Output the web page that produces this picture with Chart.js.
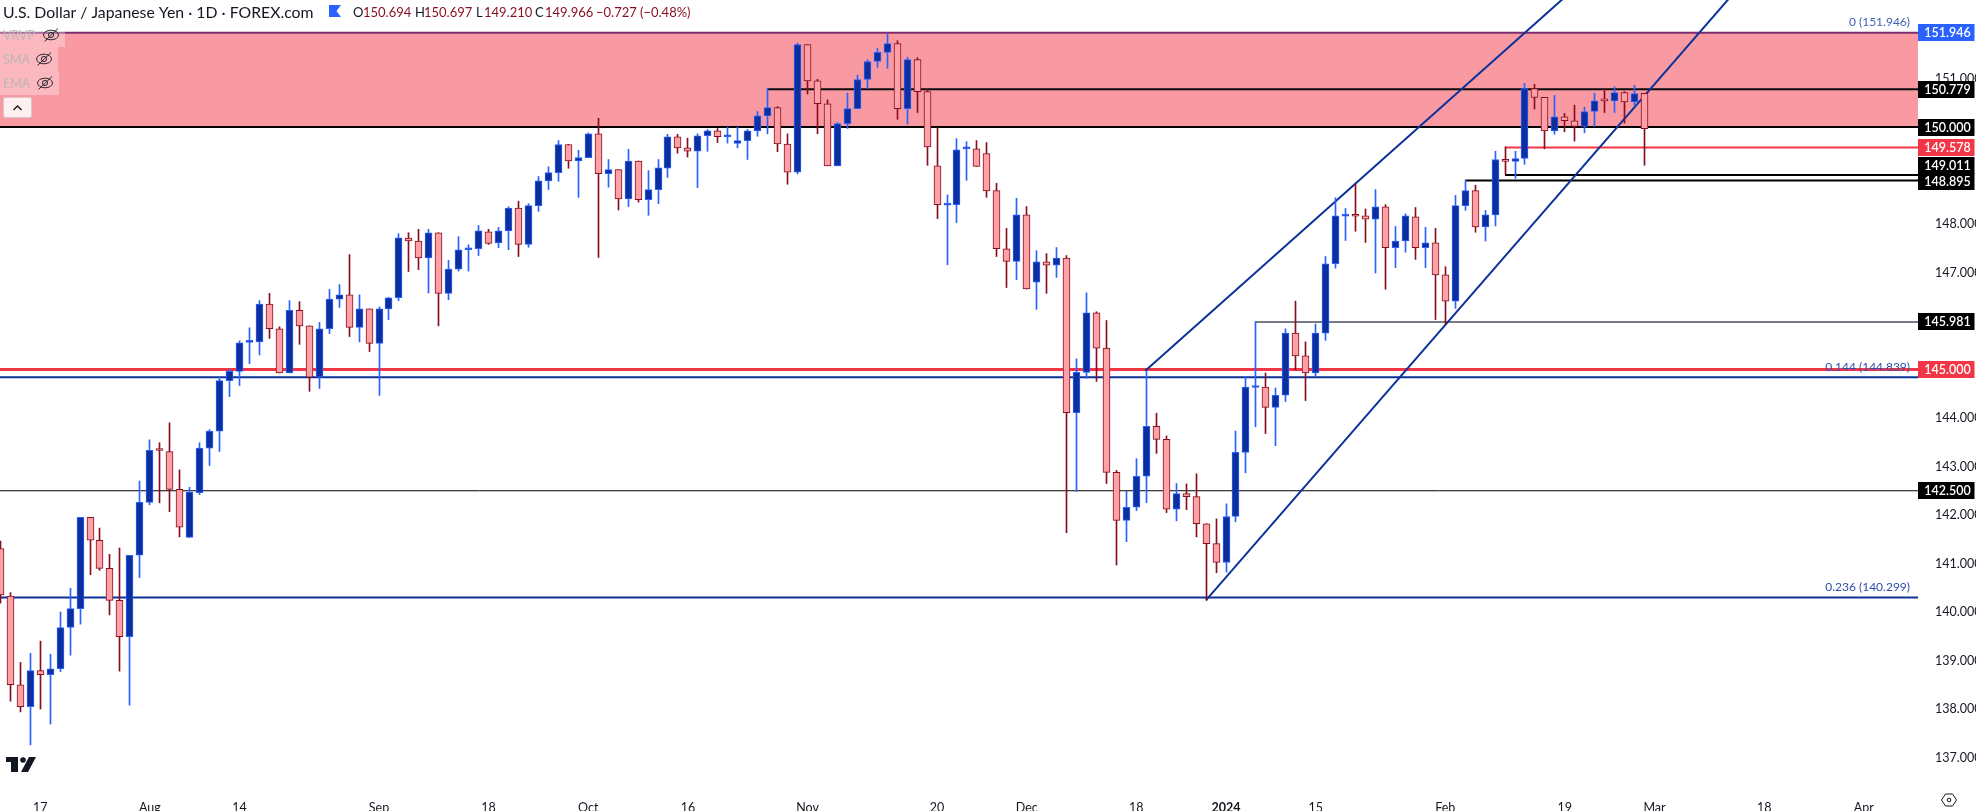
<!DOCTYPE html>
<html><head><meta charset="utf-8">
<style>html,body{margin:0;padding:0;background:#fff}canvas{display:block}</style>
<script src="https://cdn.jsdelivr.net/npm/chart.js@4"></script>
</head><body>
<canvas id="c" width="1976" height="811" style="width:1976px;height:811px"></canvas>
<script>
// bar index of the first candle in the arrays below
const firstIndex = -1;
const opens = [141.31,
140.33,138.50,138.05,138.79,138.71,138.83,139.68,140.07,141.95,141.48,
140.90,140.24,139.49,141.17,142.26,143.34,143.31,142.53,141.54,142.46,
143.38,143.73,144.77,144.96,145.56,145.57,146.35,145.84,144.93,146.22,
145.90,144.84,145.84,146.45,146.54,145.87,146.25,145.54,146.25,146.48,
147.71,147.65,147.30,147.82,146.57,147.07,147.47,147.49,147.84,147.61,
147.86,148.33,147.58,148.38,148.89,149.06,149.64,149.30,149.37,149.86,
149.04,149.12,148.52,149.30,148.50,148.71,149.15,149.80,149.57,149.50,
149.82,149.92,149.80,149.66,149.72,149.92,150.23,150.40,149.65,149.07,
151.70,150.95,150.48,149.20,150.07,150.38,150.98,151.35,151.54,151.72,
150.38,151.39,150.73,149.20,148.39,148.40,149.55,149.55,149.45,148.69,
147.49,147.23,148.19,146.80,147.22,147.15,147.30,144.11,144.94,146.17,
145.44,142.88,141.89,142.16,142.80,143.83,143.56,142.12,142.44,142.38,
141.82,141.41,141.02,141.97,143.29,144.63,144.64,144.22,144.47,145.75,
145.28,144.93,145.75,147.18,148.16,148.17,148.17,148.10,148.355,147.51,
147.65,148.15,147.51,147.61,146.95,146.41,148.38,148.69,147.94,148.19,
149.33,149.29,149.35,150.79,150.61,149.92,150.21,150.13,150.01,150.32,
150.55,150.54,150.71,150.52,150.694];
const highs = [141.46,
140.40,138.96,139.15,139.40,139.13,140.00,140.49,141.95,141.95,141.73,
141.19,141.32,141.17,142.70,143.55,143.49,143.90,142.93,142.57,143.49,
143.76,144.84,145.00,145.59,145.86,146.42,146.57,145.88,146.42,146.40,
145.90,145.97,146.65,146.75,147.37,146.54,146.25,146.29,146.49,147.80,
147.82,147.89,147.89,147.82,147.25,147.74,147.57,147.97,147.89,147.93,
148.355,148.47,148.42,148.98,149.18,149.72,149.64,149.52,149.88,150.18,
149.33,149.12,149.54,149.30,149.10,149.33,149.85,149.85,149.77,149.86,
149.95,149.97,150.00,150.00,149.95,150.32,150.80,150.42,149.86,151.73,
151.70,150.985,150.56,150.09,150.70,151.07,151.39,151.62,151.91,151.78,
151.44,151.43,150.78,149.99,148.60,149.76,149.70,149.72,149.68,148.84,
147.91,148.53,148.36,147.45,147.39,147.515,147.35,145.22,146.58,146.19,
146.01,142.92,142.49,143.16,144.96,144.10,143.63,142.65,142.64,142.85,
141.82,141.92,142.23,143.73,144.86,145.99,144.93,144.62,145.84,146.41,
145.57,145.94,147.33,148.54,148.32,148.82,148.31,148.71,148.40,147.95,
148.21,148.34,147.93,147.91,147.12,148.59,148.90,148.80,148.28,149.50,
149.59,149.50,150.90,150.88,150.61,150.65,150.28,150.45,150.41,150.70,
150.79,150.83,150.73,150.86,150.697];
const lows = [140.18,
138.16,137.94,137.26,138.00,137.69,138.77,139.11,139.75,140.77,140.86,
139.94,138.78,138.08,140.71,142.21,142.25,142.07,141.55,141.54,142.42,
143.02,143.31,144.44,144.67,145.12,145.30,145.64,144.93,144.93,145.52,
144.55,144.61,145.74,146.28,145.68,145.57,145.37,144.465,146.03,146.42,
147.02,147.06,146.58,145.90,146.44,147.03,147.03,147.35,147.58,147.51,
147.47,147.33,147.52,148.26,148.71,148.88,149.15,148.55,149.37,147.31,
148.76,148.29,148.36,148.45,148.18,148.42,148.96,149.46,149.38,148.75,
149.50,149.68,149.67,149.57,149.33,149.81,149.86,149.49,148.82,149.03,
150.68,149.86,149.20,149.20,149.97,150.38,150.79,151.23,151.21,150.16,
150.06,150.30,149.21,148.11,147.16,148.03,148.90,149.19,148.55,147.33,
146.69,146.85,146.66,146.24,146.57,146.90,141.635,142.49,144.82,144.755,
142.65,140.97,141.45,142.09,142.255,143.27,142.05,141.88,142.11,141.55,
140.24,140.81,140.82,141.86,142.87,143.82,143.68,143.43,144.34,144.99,
144.36,144.86,145.60,147.09,147.66,147.85,147.62,146.99,146.655,147.10,
147.42,147.27,147.10,146.03,145.93,146.26,148.28,147.83,147.65,147.96,
149.02,148.94,149.23,150.37,149.55,149.85,149.90,149.71,149.88,150.01,
150.30,150.30,150.08,150.43,149.210];
const closes = [140.35,
138.50,138.05,138.79,138.71,138.83,139.68,140.07,141.95,141.48,140.90,
140.24,139.49,141.17,142.26,143.335,143.33,142.53,141.75,142.475,143.38,
143.73,144.77,144.96,145.55,145.57,146.35,145.84,144.93,146.22,145.90,
144.84,145.84,146.45,146.54,145.87,146.25,145.54,146.25,146.48,147.715,
147.65,147.30,147.82,146.57,147.07,147.47,147.49,147.86,147.60,147.86,
148.33,147.58,148.38,148.89,149.06,149.64,149.30,149.37,149.86,149.04,
149.12,148.52,149.30,148.50,148.71,149.16,149.80,149.57,149.50,149.82,
149.92,149.80,149.84,149.72,149.92,150.23,150.40,149.65,149.07,151.70,
150.95,150.48,149.20,150.07,150.38,150.98,151.35,151.54,151.72,150.38,
151.39,150.73,149.59,148.40,148.40,149.53,149.56,149.19,148.68,147.49,
147.23,148.19,146.66,147.22,147.15,147.30,144.11,144.94,146.17,145.44,
142.88,141.89,142.16,142.80,143.83,143.56,142.12,142.44,142.38,141.82,
141.41,141.02,141.97,143.29,144.64,144.64,144.22,144.47,145.75,145.28,
144.93,145.75,147.18,148.17,148.17,148.16,148.10,148.355,147.51,147.65,
148.17,147.51,147.61,146.95,146.41,148.38,148.69,147.94,148.19,149.33,
149.29,149.35,150.79,150.61,149.92,150.21,150.13,150.01,150.32,150.54,
150.54,150.71,150.52,150.69,149.966];

const xTickIndex = [3,14,23,37,48,58,68,80,93,102,113,122,131,144,156,165,176,186];
const xTickLabels = ['17','Aug','14','Sep','18','Oct','16','Nov','20','Dec','18','2024','15','Feb','19','Mar','18','Apr'];
const yTicks = [137,138,139,140,141,142,143,144,147,148,151];

const zonePrices = [151.946,150];
const levelPrices = [151.946,150.779,150,149.578,149.011,148.895,145.981,145,144.839,142.5,140.299];
const levelStarts = [null,76,null,150,150,146,125,null,null,null,null];
const channelLowerIndex = [120,175];
const channelLowerPrice = [140.245,153.247];
const channelUpperIndex = [113.9,160];
const channelUpperPrice = [144.974,153.41];

const badgeValues = [151.946,150.779,150,149.578,149.011,148.895,145.981,145,142.5];
const fibValues = [151.946,144.839,140.299];
const fibLabels = ['0 (151.946)','0.144 (144.839)','0.236 (140.299)'];

// ---- styles ----
const levelColors = ['#7b2d72','#0b0b0b','#000000','#f23645','#000000','#000000','#787b86','#f23645','#0c3299','#000000','#0c3299'];
const levelWidths = [2,2,2,2,2,2,2,3,2,1,2];
const badgeColors = ['#2962ff','#000','#000','#f23645','#000','#000','#000','#f23645','#000'];
const badgeShift = [0,0,0,0,-9.5,1,0,0,0];
const UP_FILL='#0d2f9e', UP_LINE='#2962ff', DN_FILL='#fda1a6', DN_LINE='#880e1f';
const FONT='"Lato","Noto Sans",sans-serif';
const xMin=-1.0336, xMax=191.44, yMin=136.433, yMax=152.619;
const PLOT_R=1918;

const idx=i=>i+firstIndex;
const isUp=i=>closes[i]>=opens[i];
const wickData=opens.map((_,i)=>({x:idx(i),y:[lows[i],highs[i]]}));
const bodyData=opens.map((_,i)=>({x:idx(i),y:[Math.min(opens[i],closes[i]),Math.max(opens[i],closes[i])]}));

const datasets=[];
datasets.push({type:'bar',label:'body',data:bodyData,order:1,grouped:false,barThickness:7,minBarLength:2,borderWidth:1,borderSkipped:false,
  backgroundColor:c=>isUp(c.dataIndex)?UP_FILL:DN_FILL,borderColor:c=>isUp(c.dataIndex)?UP_LINE:DN_LINE});
datasets.push({type:'bar',label:'wick',data:wickData,order:2,grouped:false,barThickness:1,borderWidth:0,
  backgroundColor:c=>isUp(c.dataIndex)?UP_LINE:DN_LINE});
datasets.push({type:'line',label:'lower',data:channelLowerIndex.map((x,i)=>({x,y:channelLowerPrice[i]})),order:10,borderColor:'#0c3299',borderWidth:2,pointRadius:0});
datasets.push({type:'line',label:'upper',data:channelUpperIndex.map((x,i)=>({x,y:channelUpperPrice[i]})),order:10,borderColor:'#0c3299',borderWidth:2,pointRadius:0});
levelPrices.forEach((p,i)=>{
  datasets.push({type:'line',label:'L'+p,data:[{x:levelStarts[i]===null?xMin:levelStarts[i],y:p},{x:xMax,y:p}],order:20,borderColor:levelColors[i],borderWidth:levelWidths[i],pointRadius:0});
});
datasets.push({type:'line',label:'zone',data:[{x:xMin,y:zonePrices[0]},{x:xMax,y:zonePrices[0]}],order:30,borderWidth:0,pointRadius:0,backgroundColor:'#f99aa3',fill:{value:zonePrices[1]}});

function eye(ctx,cx,cy){
  ctx.save();ctx.strokeStyle='#2a2a33';ctx.lineWidth=1;
  ctx.beginPath();ctx.ellipse(cx,cy,7.5,4.8,0,0,Math.PI*2);ctx.stroke();
  ctx.beginPath();ctx.arc(cx,cy,2.6,0,Math.PI*2);ctx.stroke();
  ctx.beginPath();ctx.moveTo(cx-6.5,cy+6.5);ctx.lineTo(cx+7,cy-6.5);ctx.stroke();
  ctx.restore();
}
const overlay={id:'overlay',
  afterDatasetsUpdate(chart){
    chart.getSortedVisibleDatasetMetas().forEach(m=>{
      if(m.type==='bar') m.data.forEach(el=>{el.x=Math.floor(el.x)+0.5;});
    });
  },
  afterDraw(chart){
    const ctx=chart.ctx,ys=chart.scales.y;
    ctx.save();
    ctx.textBaseline='middle';
    // fib labels
    ctx.font='12px '+FONT;ctx.textAlign='right';
    fibValues.forEach((v,i)=>{
      ctx.fillStyle=i===0?'#3f62b5':'#2f4fae';
      ctx.fillText(fibLabels[i],1910,ys.getPixelForValue(v)-10.5);
    });
    // price badges
    ctx.font='600 12.5px '+FONT;ctx.textAlign='center';
    badgeValues.forEach((v,i)=>{
      const y=ys.getPixelForValue(v)+badgeShift[i];
      ctx.fillStyle=badgeColors[i];
      ctx.fillRect(PLOT_R,Math.round(y-8.5),56.5,17);
      ctx.fillStyle='#fff';
      ctx.fillText(v.toFixed(3),1947.5,y+0.5);
    });
    // header
    ctx.textAlign='left';
    ctx.fillStyle='#131722';ctx.font='15.8px '+FONT;
    ctx.fillText('U.S. Dollar / Japanese Yen · 1D · FOREX.com',3,12.5);
    ctx.fillStyle='#2962ff';ctx.beginPath();ctx.moveTo(329,5);ctx.lineTo(341,5);ctx.lineTo(336.5,11);ctx.lineTo(341,17);ctx.lineTo(329,17);ctx.closePath();ctx.fill();
    ctx.font='13px '+FONT;
    [['O',353,'#131722'],['150.694',363,DN_LINE],['H',415,'#131722'],['150.697',424,DN_LINE],['L',476,'#131722'],['149.210',484,DN_LINE],['C',535,'#131722'],['149.966',545,DN_LINE],['−0.727',596,DN_LINE],['(−0.48%)',640,DN_LINE]]
      .forEach(t=>{ctx.fillStyle=t[2];ctx.fillText(t[0],t[1],12.5);});
    // indicator legend
    ctx.fillStyle='rgba(255,255,255,0.3)';
    ctx.fillRect(0,31,65,16);ctx.fillRect(0,47,58,24);ctx.fillRect(0,71,59,24);
    ctx.fillStyle='#bdb6ba';ctx.font='12.5px '+FONT;
    ctx.fillText('VRVP',3,36);ctx.fillText('SMA',3,60);ctx.fillText('EMA',3,84);
    eye(ctx,51,35);eye(ctx,44,59);eye(ctx,45,83);
    // collapse button
    ctx.fillStyle='rgba(255,255,255,0.85)';ctx.strokeStyle='rgba(210,200,205,0.9)';ctx.lineWidth=1;
    ctx.beginPath();ctx.roundRect(3.5,97.5,28,20,2);ctx.fill();ctx.stroke();
    ctx.strokeStyle='#131722';ctx.lineWidth=1.4;ctx.beginPath();ctx.moveTo(13.5,110);ctx.lineTo(17.5,106);ctx.lineTo(21.5,110);ctx.stroke();
    // logo
    ctx.fillStyle='#131722';
    ctx.fillRect(6,757,12,5);ctx.fillRect(11,757,7,15);
    ctx.beginPath();ctx.arc(23,760,2.8,0,Math.PI*2);ctx.fill();
    ctx.beginPath();ctx.moveTo(29,757);ctx.lineTo(36,757);ctx.lineTo(28,772);ctx.lineTo(21,772);ctx.closePath();ctx.fill();
    // settings hexagon
    ctx.strokeStyle='#131722';ctx.lineWidth=1;ctx.beginPath();
    const hx=1949,hy=800;
    ctx.moveTo(hx-7.5,hy);ctx.lineTo(hx-3.5,hy-6);ctx.lineTo(hx+3.5,hy-6);ctx.lineTo(hx+7.5,hy);ctx.lineTo(hx+3.5,hy+6);ctx.lineTo(hx-3.5,hy+6);ctx.closePath();ctx.stroke();
    ctx.beginPath();ctx.arc(hx,hy,1.8,0,Math.PI*2);ctx.stroke();
    ctx.restore();
  }
};

new Chart(document.getElementById('c'),{
  data:{datasets},
  plugins:[overlay],
  options:{
    responsive:false,animation:false,devicePixelRatio:1,
    layout:{padding:0,autoPadding:false},
    plugins:{legend:{display:false},tooltip:{enabled:false},title:{display:false}},
    scales:{
      x:{type:'linear',min:xMin,max:xMax,offset:false,grid:{display:false},border:{display:false},
        afterBuildTicks(s){s.ticks=xTickIndex.map(v=>({value:v}));},
        afterFit(s){s.height=26;s.paddingLeft=0;s.paddingRight=0;},
        ticks:{autoSkip:false,maxRotation:0,padding:7,color:'#131722',
          font:c=>({family:FONT,size:12.5,weight:c.tick&&c.tick.value===122?'bold':'normal'}),
          callback:v=>xTickLabels[xTickIndex.indexOf(v)]}},
      y:{type:'linear',position:'right',min:yMin,max:yMax,grid:{display:false},border:{display:false},
        afterBuildTicks(s){s.ticks=yTicks.map(v=>({value:v}));},
        afterFit(s){s.width=58;s.paddingTop=0;s.paddingBottom=0;},
        ticks:{autoSkip:false,padding:9,color:'#131722',font:{family:FONT,size:12.5},callback:v=>v.toFixed(3)}}
    }
  }
});
</script>
</body></html>
